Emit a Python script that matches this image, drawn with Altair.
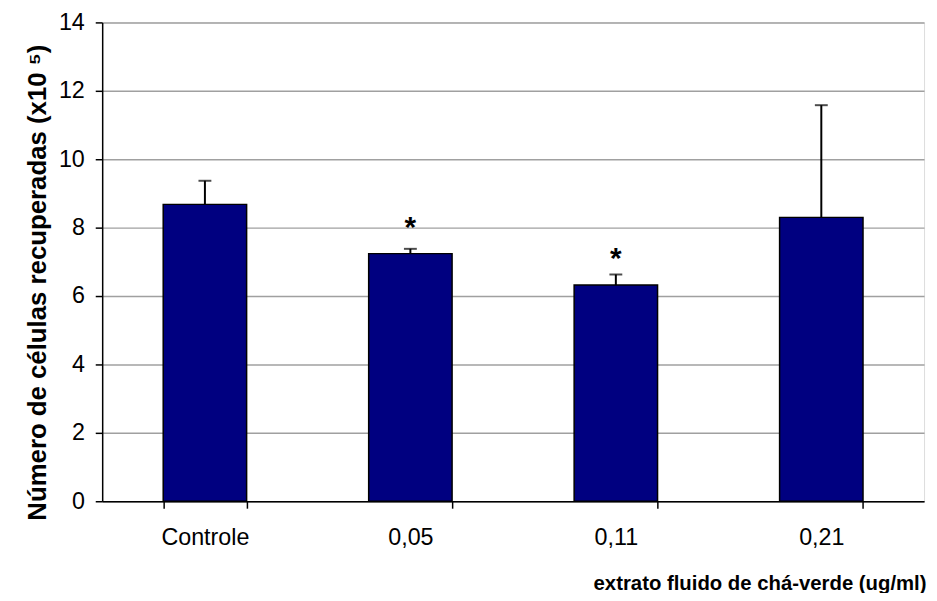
import altair as alt
import pandas as pd

categories = ["Controle", "0,05", "0,11", "0,21"]
means = [8.68, 7.24, 6.32, 8.30]
errors = [0.69, 0.14, 0.31, 3.28]
marks = ["", "*", "*", ""]

df = pd.DataFrame({"cat": categories, "mean": means, "err": errors, "mark": marks})
df["upper"] = df["mean"] + df["err"]

FONT = "Liberation Sans"

x = alt.X(
    "cat:N",
    sort=categories,
    scale=alt.Scale(paddingInner=0.594, paddingOuter=0.297),
    axis=alt.Axis(
        title="extrato fluido de chá-verde (ug/ml)",
        labelAngle=0,
        tickBand="extent",
        labelFont=FONT,
        labelFontSize=23.5,
        labelColor="black",
        labelPadding=18,
        tickSize=7,
        tickColor="black",
        tickWidth=1.5,
        domainColor="black",
        domainWidth=1.5,
        grid=False,
        titleFont=FONT,
        titleFontSize=20.5,
        titleFontWeight="bold",
        titleColor="black",
        titleAlign="right",
        titleAnchor="end",
        titleBaseline="alphabetic",
        titleX=831,
        titleY=89,
    ),
)
y = alt.Y(
    "mean:Q",
    scale=alt.Scale(domain=[0, 14], nice=False),
    axis=alt.Axis(
        title="Número de células recuperadas (x10 ⁵)",
        values=list(range(0, 15, 2)),
        labelFont=FONT,
        labelFontSize=23.5,
        labelColor="black",
        labelPadding=11,
        tickSize=7,
        tickColor="black",
        tickWidth=1.5,
        domainColor="black",
        domainWidth=1.5,
        grid=True,
        gridColor="#a0a0a0",
        gridWidth=1.5,
        titleFont=FONT,
        titleFontSize=26,
        titleFontWeight="bold",
        titleColor="black",
        titleAngle=-90,
        titleAlign="center",
        titleBaseline="alphabetic",
        titleX=-57,
        titleY=262,
    ),
)

base = alt.Chart(df)

bars = base.mark_bar(color="#000080", stroke="black", strokeWidth=1.5).encode(x=x, y=y)
rules = base.mark_rule(color="black", strokeWidth=2).encode(
    x=alt.X("cat:N", sort=categories), y="mean:Q", y2="upper:Q"
)
caps = base.mark_tick(color="black", size=13, thickness=2).encode(
    x=alt.X("cat:N", sort=categories), y="upper:Q"
)
stars = base.mark_text(
    font=FONT, fontSize=30, fontWeight="bold", color="black", baseline="alphabetic", dy=-17
).encode(x=alt.X("cat:N", sort=categories), y="mean:Q", text="mark:N")

chart = (
    alt.layer(bars, rules, caps, stars)
    .properties(
        width=829,
        height=483,
        autosize=alt.AutoSizeParams(type="none"),
        padding={"left": 95, "top": 12, "right": 5, "bottom": 90},
    )
    .configure_view(stroke=None)
    .configure(background="white")
)

chart.save("out.html", embed_options={"renderer": "svg", "actions": False})
